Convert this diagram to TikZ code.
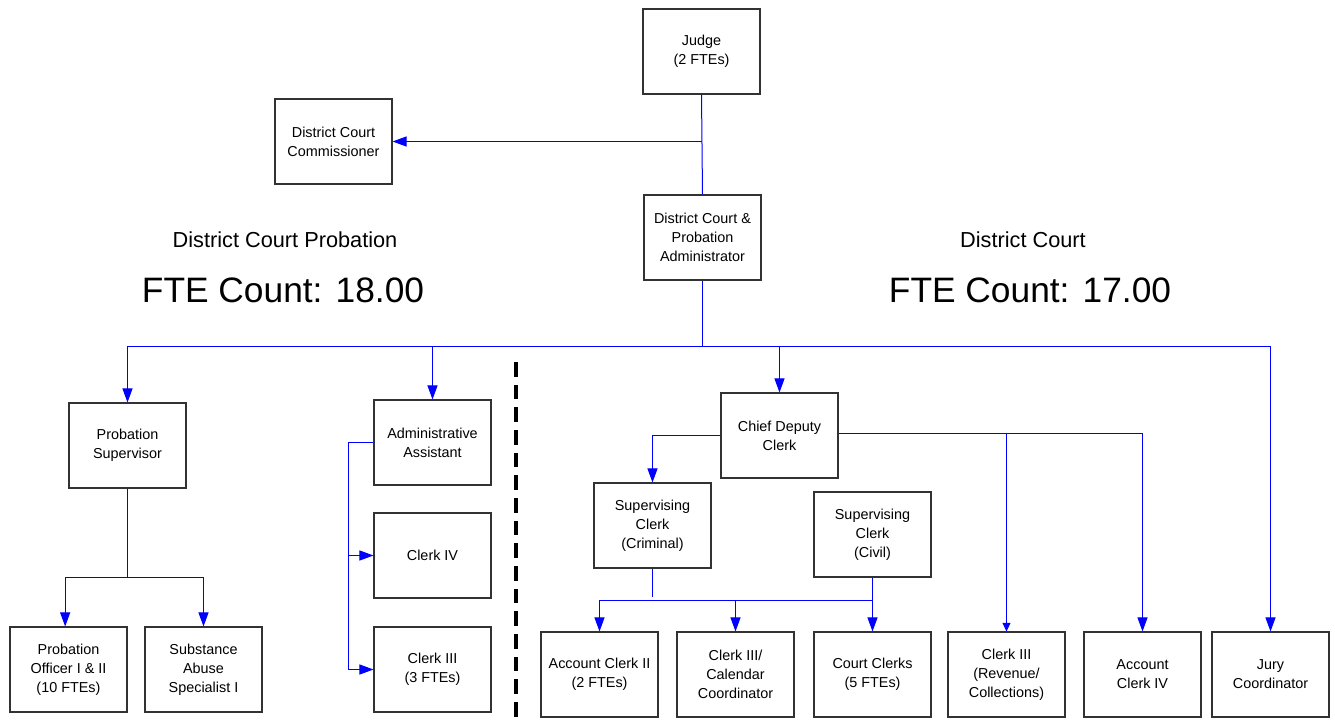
\documentclass[tikz,border=0pt]{standalone}
\usepackage{fontspec}
\setmainfont{Liberation Sans}
\usetikzlibrary{arrows.meta}
\definecolor{linkblue}{RGB}{0,0,255}
\definecolor{boxline}{RGB}{50,50,50}
\begin{document}
\begin{tikzpicture}[x=0.75pt,y=-0.75pt,
  box/.style={draw=boxline, line width=0.8pt, minimum width=87.75pt, minimum height=63.75pt,
    align=center, font=\fontsize{10.8}{14.3}\selectfont, inner sep=1pt},
  link/.style={draw=linkblue, line width=0.75pt},
  arr/.style={link, -{Triangle[length=10.5pt,width=7.5pt]}},
  arrs/.style={link, -{Triangle[length=6.5pt,width=6pt]}},
  title/.style={font=\fontsize{16.3}{18}\selectfont},
  count/.style={font=\fontsize{26.5}{30}\selectfont},
  divider/.style={draw=black, line width=2.3pt, dash pattern=on 11pt off 6pt}]
\useasboundingbox (0,0) rectangle (1335,721);

% nodes
\node[box] (judge) at (701.5,51.5) {Judge\\(2 FTEs)};
\node[box] (comm) at (333.5,141.5) {District Court\\Commissioner};
\node[box] (admin) at (702.5,237.5) {District Court \&\\Probation\\Administrator};
\node[box] (probsup) at (127.5,445.5) {Probation\\Supervisor};
\node[box] (po) at (68.5,669.5) {Probation\\Officer I \& II\\(10 FTEs)};
\node[box] (sas) at (203.5,669.5) {Substance\\Abuse\\Specialist I};
\node[box] (aa) at (432.5,442.5) {Administrative\\Assistant};
\node[box] (c4) at (432.5,555.5) {Clerk IV};
\node[box] (c3) at (432.5,669.5) {Clerk III\\(3 FTEs)};
\node[box] (cdc) at (779.5,435.5) {Chief Deputy\\Clerk};
\node[box] (scc) at (652.5,525.5) {Supervising\\Clerk\\(Criminal)};
\node[box] (scv) at (872.5,534.5) {Supervising\\Clerk\\(Civil)};
\node[box] (ac2) at (599.5,674.5) {Account Clerk II\\(2 FTEs)};
\node[box] (cal) at (735.5,674.5) {Clerk III/\\Calendar\\Coordinator};
\node[box] (cc) at (872.5,674.5) {Court Clerks\\(5 FTEs)};
\node[box] (c3r) at (1006.5,674.5) {Clerk III\\(Revenue/\\Collections)};
\node[box] (acc4) at (1142.5,674.5) {Account\\Clerk IV};
\node[box] (jury) at (1270.5,674.5) {Jury\\Coordinator};

% titles
\node[title] (tl) at (285,240) {District Court Probation};
\node[count] (cl) at (283,290) {FTE Count: 18.00};
\node[title] (tr) at (1023,240) {District Court};
\node[count] (cr) at (1030,290) {FTE Count: 17.00};

% divider
\coordinate (dtop) at (516,362);
\coordinate (dbot) at (516,721);
\draw[divider] (dtop) -- (dbot);

% connectors
\draw[link] (judge.south) -- (admin.north);
\draw[arr] (judge.south |- comm.east) -- (comm.east);

\coordinate (bus) at (702.5,346);
\draw[link] (admin.south) -- (bus);
\draw[arr] (bus) -| (probsup.north);
\draw[arr] (bus) -| (jury.north);
\draw[arr] (bus -| aa.north) -- (aa.north);
\draw[arr] (bus -| cdc.north) -- (cdc.north);

\coordinate (pbus) at (127.5,577);
\draw[link] (probsup.south) -- (pbus);
\draw[arr] (pbus) -| ([xshift=-2.5pt]po.north);
\draw[arr] (pbus) -| (sas.north);

\coordinate (abus) at (348,442.5);
\draw[link] (aa.west) -- (abus);
\draw[arr] (abus) |- (c4.west);
\draw[arr] (abus) |- (c3.west);

\draw[arr] (cdc.west) -| (scc.north);
\coordinate (rbus) at (1142.5,433);
\draw[link] (cdc.east |- rbus) -- (rbus);
\draw[arr] (rbus) -- (acc4.north);
\draw[arrs] (rbus -| c3r.north) -- (c3r.north);

\coordinate (sbus) at (872.5,600);
\draw[link] (scc.south) -- ([yshift=2pt]scc.south |- sbus);
\draw[arr] (scv.south) -- (cc.north);
\draw[arr] (sbus) -| (ac2.north);
\draw[arr] (sbus -| cal.north) -- (cal.north);
\end{tikzpicture}
\end{document}
